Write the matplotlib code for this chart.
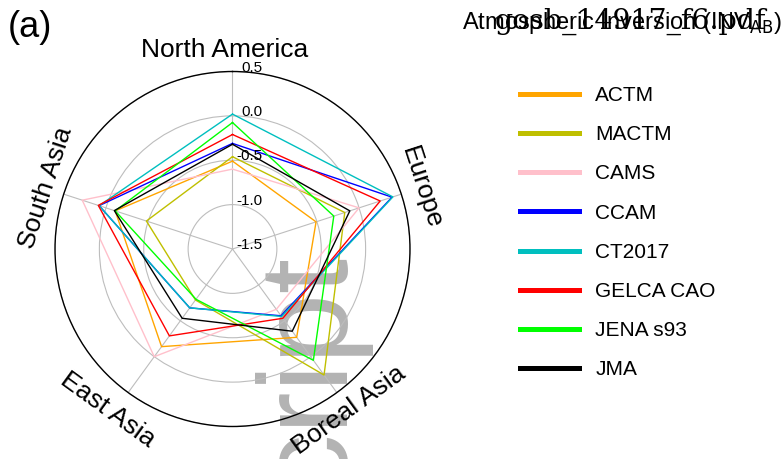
import numpy as np
import matplotlib
matplotlib.use('Agg')
import matplotlib.pyplot as plt

plt.rcParams['font.family'] = ['Liberation Sans', 'DejaVu Sans']

# regions, clockwise from the top
regions = ['North America', 'Europe', 'Boreal Asia', 'East Asia', 'South Asia']
region_rot = [0, -72, 36, -36, 72]
region_shift = [(-6, 0), (0, 0), (0, 0), (-6, 0), (2, 0)]   # small nudges, points

models = ['ACTM', 'MACTM', 'CAMS', 'CCAM', 'CT2017', 'GELCA CAO', 'JENA s93', 'JMA']
colors = ['orange', 'y', 'pink', 'b', 'c', 'r', 'lime', 'k']

actm = [-0.51, -0.51, -0.27, -0.14, -0.11]
mactm = [-0.46, -0.17, 0.255, -0.79, -0.48]
cams = [-0.60, 0.0, -0.66, 0.0, 0.28]
ccam = [-0.31, 0.39, -0.57, -0.68, 0.08]
ct2017 = [0.02, 0.40, -0.56, -0.68, 0.08]
gelca = [-0.21, 0.25, -0.535, -0.29, 0.09]
jena = [-0.075, -0.30, 0.05, -0.80, -0.11]
jma = [-0.32, -0.11, -0.355, -0.535, -0.10]
series = [actm, mactm, cams, ccam, ct2017, gelca, jena, jma]

rticks = [-1.5, -1.0, -0.5, 0.0, 0.5]
rtick_labels = ['-1.5', '-1.0', '-0.5', '0.0', '0.5']

fig = plt.figure(figsize=(7.83, 4.59), dpi=100)
ax = fig.add_axes([55/783, 1-426.5/459, 355/783, 355/459], projection='polar')
ax.set_facecolor('none')
ax.set_theta_offset(np.pi/2)
ax.set_theta_direction(-1)

angles = np.linspace(0, 2*np.pi, len(regions), endpoint=False)
ang_closed = np.append(angles, angles[0])

for name, vals, col in zip(models, series, colors):
    ax.plot(ang_closed, vals + vals[:1], color=col, lw=1.0, label=name)

ax.set_ylim(-1.5, 0.5)
ax.set_yticks(rticks)
ax.set_yticklabels([])
ax.set_xticks(angles)
ax.set_xticklabels([])
ax.grid(True, color='#bdbdbd', lw=0.8)
ax.spines['polar'].set_color('k')
ax.spines['polar'].set_linewidth(1.0)

for v, lab in zip(rticks, rtick_labels):
    ax.annotate(lab, xy=(0, v), xytext=(21.5, 0), textcoords='offset points',
                ha='right', va='baseline', fontsize=11)

for a, name, rot, sh in zip(angles, regions, region_rot, region_shift):
    ax.annotate(name, xy=(a, 0.74), xytext=sh, textcoords='offset points',
                rotation=rot, ha='center', va='center', fontsize=19,
                annotation_clip=False)

leg = fig.legend(loc='upper left', bbox_to_anchor=(520/783, 1-86/459), frameon=False,
                 fontsize=15, handlelength=2.84, handletextpad=0.77, labelspacing=0.97,
                 borderpad=0, borderaxespad=0)
for h in leg.get_lines():
    h.set_linewidth(3.6)

fig.text(8/783, 1-37/459, '(a)', fontsize=26, ha='left', va='baseline')
fig.text(462/783, 1-29/459, 'Atmospheric Inversion (INV$_{\\mathrm{AB}}$)', fontsize=17,
         ha='left', va='baseline')
fig.text(495/783, 1-29/459, 'gosb_14917_f6.pdf', fontsize=20.5, family='DejaVu Serif',
         ha='left', va='baseline')
fig.text(368/783, 1-252/459, 'Script', rotation=90, ha='right', va='top', fontsize=91,
         color='#b3b3b3', zorder=-1)

fig.savefig('out.png', dpi=100)
